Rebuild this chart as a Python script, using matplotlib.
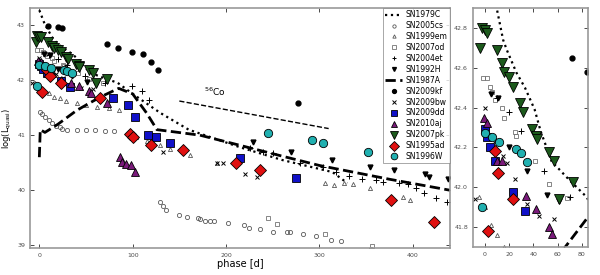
import numpy as np
import matplotlib.pyplot as plt

# (phase [d], log L)
sn1979c_t = [0, 5, 10, 15, 18, 26, 33, 41, 46, 55, 69, 84, 100, 130, 160, 215, 260, 314, 330]
sn1979c_l = [43.27, 43.05, 42.89, 42.74, 42.69, 42.575, 42.5, 42.39, 42.28, 42.13, 42.04, 41.95, 41.75, 41.4, 41.1, 40.78, 40.55, 40.33, 40.13]

sn2005cs_t = [0.5, 3, 6, 10, 14, 18, 22, 24, 30, 40, 50, 60, 70, 80, 129, 133, 136, 150, 158, 170, 172, 178, 183, 187, 202, 219, 225, 236, 250, 265, 269, 282, 296, 312, 323, 355]
sn2005cs_l = [41.42, 41.38, 41.33, 41.27, 41.22, 41.17, 41.14, 41.12, 41.1, 41.09, 41.09, 41.09, 41.08, 41.07, 39.78, 39.72, 39.64, 39.55, 39.51, 39.5, 39.47, 39.45, 39.44, 39.44, 39.4, 39.36, 39.31, 39.29, 39.24, 39.25, 39.24, 39.2, 39.16, 39.1, 39.07, 38.93]

sn1999em_t = [-5, 0, 5, 10, 16, 22, 29, 40, 50, 62, 75, 85, 104, 115, 129, 140, 161, 190, 306, 316, 326, 336, 354, 390, 397]
sn1999em_l = [41.95, 41.9, 41.81, 41.76, 41.7, 41.67, 41.62, 41.58, 41.55, 41.52, 41.5, 41.45, 40.96, 40.9, 40.82, 40.75, 40.64, 40.5, 40.13, 40.1, 40.14, 40.12, 40.04, 39.87, 39.82]

sn2007od_t = [-2, 2, 4, 6, 8, 14, 16, 25, 26, 41, 53, 68, 245, 255, 306, 356]
sn2007od_l = [42.55, 42.55, 42.505, 42.48, 42.44, 42.4, 42.35, 42.275, 42.255, 42.13, 42.015, 41.945, 39.49, 39.38, 39.2, 38.98]

sn2004et_t = [10, 20, 30, 49, 70, 99, 110, 118, 226, 240, 250, 279, 304, 318, 332, 346, 361, 368, 385, 395, 404, 412, 425, 437]
sn2004et_l = [42.45, 42.38, 42.28, 42.08, 41.95, 41.9, 41.8, 41.64, 40.76, 40.69, 40.67, 40.49, 40.42, 40.33, 40.25, 40.21, 40.18, 40.15, 40.14, 40.12, 40.04, 39.95, 39.85, 39.78]

sn1992h_t = [5, 11, 20, 35, 51, 61, 229, 270, 314, 354, 380, 413, 418, 438]
sn1992h_l = [42.47, 42.45, 42.2, 42.08, 41.96, 41.93, 40.87, 40.69, 40.55, 40.42, 40.36, 40.3, 40.24, 40.2]

sn1987a_t = [0, 1, 6, 20, 40, 65, 85, 100, 115, 126, 172, 207, 260, 300, 375, 440]
sn1987a_l = [40.6, 41.1, 41.05, 41.2, 41.45, 41.69, 41.85, 41.75, 41.4, 41.1, 41.0, 40.85, 40.62, 40.45, 40.2, 40.0]

sn2009kf_t = [9, 20, 24, 72, 84, 99, 111, 120, 127, 277]
sn2009kf_l = [42.98, 42.96, 42.95, 42.65, 42.58, 42.51, 42.47, 42.33, 42.18, 41.58]

sn2009bw_t = [-8, 0, 2, 8, 15, 18, 25, 35, 45, 57, 132, 190, 197, 220, 233]
sn2009bw_l = [41.94, 42.4, 42.3, 42.23, 42.155, 42.12, 42.04, 41.915, 41.855, 41.84, 40.69, 40.5, 40.5, 40.3, 40.24]

sn2009dd_t = [0, 2, 4, 8, 23, 33, 79, 95, 102, 116, 125, 140, 215, 275]
sn2009dd_l = [42.29, 42.25, 42.2, 42.13, 41.975, 41.88, 41.67, 41.55, 41.33, 41.0, 40.96, 40.85, 40.58, 40.22]

sn2010aj_t = [-1, 2, 10, 14, 34, 42, 53, 55, 73, 86, 89, 93, 98, 102]
sn2010aj_l = [42.35, 42.32, 42.13, 42.13, 41.955, 41.89, 41.8, 41.765, 41.58, 40.6, 40.52, 40.47, 40.45, 40.33]

sn2007pk_t = [-4, -2.4, 0, 1.6, 9.8, 14, 16, 20, 23, 29, 31, 39, 42, 43, 53, 57, 61, 73]
sn2007pk_l = [42.7, 42.8, 42.79, 42.775, 42.69, 42.625, 42.58, 42.555, 42.505, 42.425, 42.38, 42.29, 42.255, 42.24, 42.175, 42.13, 41.94, 42.025]

sn1995ad_t = [2.5, 8, 11, 23, 65, 97, 100, 120, 154, 211, 236, 377, 423]
sn1995ad_l = [41.78, 42.18, 42.07, 41.94, 41.67, 41.03, 40.96, 40.82, 40.73, 40.5, 40.36, 39.82, 39.42]

sn1996w_t = [-2.4, 0, 5.7, 12, 26, 30, 35, 245, 292, 304, 352]
sn1996w_l = [41.9, 42.27, 42.25, 42.225, 42.19, 42.17, 42.125, 41.04, 40.91, 40.85, 40.69]

co_t = [150, 310]
co_l = [41.62, 41.12]

series = [
    ('SN1979C', sn1979c_t, sn1979c_l, dict(ls=':', lw=1.6, color='k', marker='None')),
    ('SN2005cs', sn2005cs_t, sn2005cs_l, dict(ls='None', marker='o', ms=3, mfc='none', mec='0.35', mew=0.6)),
    ('SN1999em', sn1999em_t, sn1999em_l, dict(ls='None', marker='^', ms=3, mfc='none', mec='0.35', mew=0.6)),
    ('SN2007od', sn2007od_t, sn2007od_l, dict(ls='None', marker='s', ms=3.5, mfc='none', mec='0.45', mew=0.6)),
    ('SN2004et', sn2004et_t, sn2004et_l, dict(ls='None', marker='+', ms=4, color='k', mew=0.7)),
    ('SN1992H', sn1992h_t, sn1992h_l, dict(ls='None', marker='v', ms=3.5, color='k')),
    ('SN1987A', sn1987a_t, sn1987a_l, dict(ls='--', lw=2, color='k', marker='None')),
    ('SN2009kf', sn2009kf_t, sn2009kf_l, dict(ls='None', marker='o', ms=3.5, color='k')),
    ('SN2009bw', sn2009bw_t, sn2009bw_l, dict(ls='None', marker='x', ms=3.5, color='k', mew=0.7)),
    ('SN2009dd', sn2009dd_t, sn2009dd_l, dict(ls='None', marker='s', ms=6, mfc='#1010c8', mec='k', mew=0.6)),
    ('SN2010aj', sn2010aj_t, sn2010aj_l, dict(ls='None', marker='^', ms=6, mfc='#7a1a7a', mec='k', mew=0.6)),
    ('SN2007pk', sn2007pk_t, sn2007pk_l, dict(ls='None', marker='v', ms=7, mfc='#1c5a1c', mec='k', mew=0.6)),
    ('SN1995ad', sn1995ad_t, sn1995ad_l, dict(ls='None', marker='D', ms=6, mfc='#e01010', mec='k', mew=0.6)),
    ('SN1996W', sn1996w_t, sn1996w_l, dict(ls='None', marker='o', ms=6, mfc='#20b0b0', mec='k', mew=0.6)),
]

fig = plt.figure(figsize=(6, 2.75), dpi=100)
ax = fig.add_axes([0.05, 0.098, 0.70, 0.873])
ax2 = fig.add_axes([0.788, 0.102, 0.192, 0.869])

for name, t, l, kw in series:
    ax.plot(t, l, label=name, **kw)
    ax2.plot(t, l, **kw)

ax.plot(co_t, co_l, ls='--', lw=1, color='k')
ax.text(188, 41.67, r'$^{56}$Co', fontsize=6.5, ha='center', va='bottom')

ax.set_xlim(-10, 440)
ax.set_ylim(38.95, 43.31)
ax.set_xticks([0, 100, 200, 300, 400])
ax.set_yticks([39, 40, 41, 42, 43])
ax.set_xlabel('phase [d]', fontsize=7, labelpad=1)
ax.set_ylabel(r'log(L$_{\rm quasi}$)', fontsize=6, labelpad=2)

ax2.set_xlim(-10, 85)
ax2.set_ylim(41.7, 42.9)
ax2.set_xticks([0, 20, 40, 60, 80])
ax2.set_yticks([41.8, 42.0, 42.2, 42.4, 42.6, 42.8])

for a in (ax, ax2):
    a.tick_params(direction='in', top=True, right=True, labelsize=4.5, labelcolor='0.3', length=3, width=0.5)
    for s in a.spines.values():
        s.set_color('0.6')
        s.set_linewidth(1.2)

leg = ax.legend(loc='upper right', fontsize=5.5, frameon=True, fancybox=False, handlelength=2.2,
                handletextpad=0.5, labelspacing=0.25, borderpad=0.3, borderaxespad=0.0, markerscale=0.8)
leg.get_frame().set_edgecolor('0.5')
leg.get_frame().set_linewidth(0.6)

fig.savefig('out.png', dpi=100)
